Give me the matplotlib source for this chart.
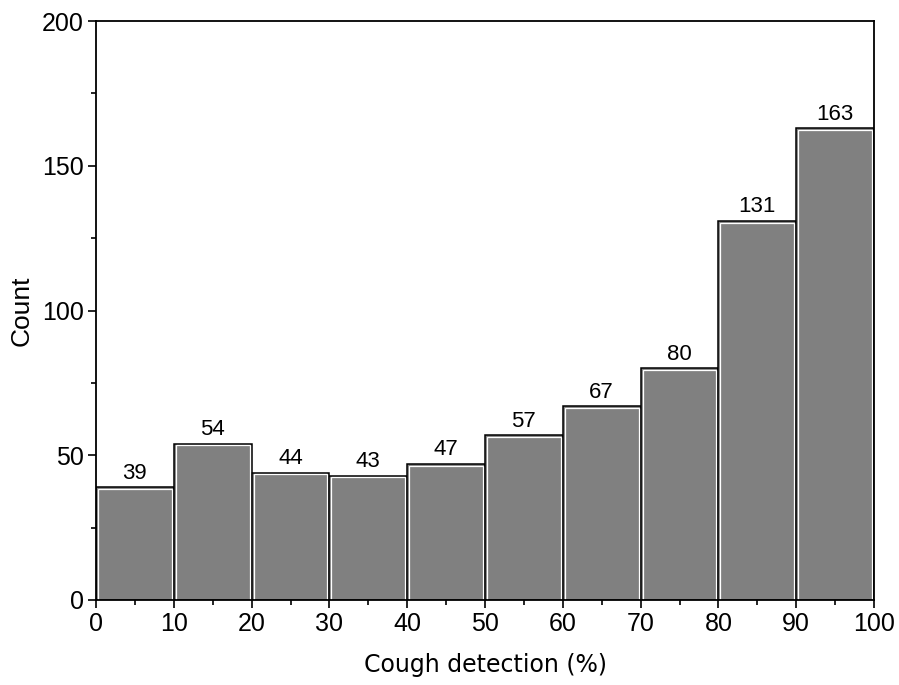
import numpy as np
import matplotlib
matplotlib.use("Agg")
import matplotlib.pyplot as plt
from matplotlib.ticker import MultipleLocator

# histogram bins (percent) and counts
bin_left = [0, 10, 20, 30, 40, 50, 60, 70, 80, 90]
counts = [39, 54, 44, 43, 47, 57, 67, 80, 131, 163]
bin_width = 10

plt.rcParams['font.family'] = ['Liberation Sans', 'DejaVu Sans']

fig = plt.figure(figsize=(8.99, 6.85), dpi=100)
ax = fig.add_axes([0.1068, 0.1241, 0.8654, 0.8452])

# gray bars with black outline and thin white inner line
ax.bar(bin_left, counts, width=bin_width, align='edge', color='#808080',
       edgecolor='black', linewidth=1.1, zorder=2)
inset = 0.25
ax.bar(np.array(bin_left) + inset, np.array(counts) - 0.6, width=bin_width - 2 * inset,
       align='edge', fill=False, edgecolor='white', linewidth=0.9, zorder=3)

for x, c in zip(bin_left, counts):
    ax.text(x + bin_width / 2, c + 1.2, str(c), ha='center', va='bottom',
            fontsize=16, zorder=4)

ax.set_xlim(0, 100)
ax.set_ylim(0, 200)
ax.xaxis.set_major_locator(MultipleLocator(10))
ax.xaxis.set_minor_locator(MultipleLocator(5))
ax.yaxis.set_major_locator(MultipleLocator(50))
ax.yaxis.set_minor_locator(MultipleLocator(25))
ax.tick_params(which='major', direction='out', length=6, width=1.2, labelsize=18, pad=3)
ax.tick_params(which='minor', direction='out', length=3.5, width=1.2)
for s in ax.spines.values():
    s.set_linewidth(1.3)
    s.set_zorder(5)

ax.set_xlabel("Cough detection (%)", fontsize=17, family='DejaVu Sans', labelpad=12)
ax.set_ylabel("Count", fontsize=19, labelpad=6)

fig.savefig("out.png", dpi=100)
